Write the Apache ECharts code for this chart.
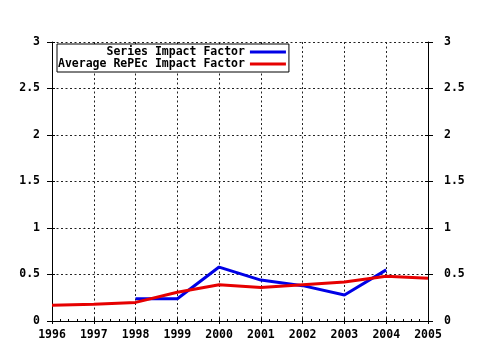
<!DOCTYPE html>
<html>
<head>
<meta charset="utf-8">
<script src="https://cdn.jsdelivr.net/npm/echarts@6/dist/echarts.min.js"></script>
<style>
  html, body { margin: 0; padding: 0; background: #fff; }
  #chart { width: 480px; height: 350px; }
</style>
</head>
<body>
<div id="chart"></div>
<script>
// values
const years = [1996, 1997, 1998, 1999, 2000, 2001, 2002, 2003, 2004, 2005];
const seriesImpact = [null, null, 0.24, 0.24, 0.58, 0.44, 0.38, 0.28, 0.55, null];
const avgRepec = [0.17, 0.18, 0.20, 0.31, 0.39, 0.36, 0.39, 0.42, 0.48, 0.46];
const yTicks = [0, 0.5, 1, 1.5, 2, 2.5, 3];

const font = 'DejaVu Sans Mono';
const pairs = (vals) => years.map((y, i) => [y, vals[i]]).filter((p) => p[1] !== null);

const names = ['Series Impact Factor', 'Average RePEc Impact Factor'];
const maxLen = Math.max(...names.map((n) => n.length));

const labelStyle = { color: '#000', fontFamily: font, fontWeight: 'bold', fontSize: 11.5 };
const yFmt = (v) => (yTicks.includes(v) ? String(v) : '');
const dotted = { color: '#222', type: [2, 2.5], width: 1 };
const black = { color: '#000', width: 1 };

// an axis that only draws inward ticks, laid over the labelled one
const xInner = {
  type: 'value', min: years[0], max: years[years.length - 1], interval: 1, position: 'bottom',
  axisLine: { show: false },
  axisTick: { show: true, inside: true, length: 3, lineStyle: black },
  minorTick: { show: true, splitNumber: 5, length: 2, lineStyle: black },
  axisLabel: { show: false }, splitLine: { show: false },
};
const yInner = (pos) => ({
  type: 'value', min: 0, max: 3, interval: 0.5, position: pos,
  axisLine: { show: false },
  axisTick: { show: true, inside: true, length: 3, lineStyle: black },
  axisLabel: { show: false }, splitLine: { show: false },
});

const myChart = echarts.init(document.getElementById('chart'), null, { renderer: 'canvas' });
const option = {
  animation: false,
  backgroundColor: '#fff',
  grid: { left: 52, right: 52, top: 42, bottom: 29 },
  legend: {
    orient: 'vertical',
    left: 57,
    top: 44,
    align: 'right',
    padding: [2, 3, 2, 1],
    itemGap: 0,
    itemWidth: 36,
    itemHeight: 3,
    icon: 'rect',
    backgroundColor: '#fff',
    borderColor: '#000',
    borderWidth: 1,
    borderRadius: 0,
    formatter: (n) => n.padStart(maxLen, ' '),
    textStyle: { color: '#000', fontFamily: font, fontWeight: 'bold', fontSize: 11.5, lineHeight: 12 },
    data: names,
  },
  xAxis: [
    {
      type: 'value',
      min: years[0],
      max: years[years.length - 1],
      interval: 1,
      position: 'bottom',
      axisLine: { show: true, lineStyle: black },
      axisTick: { show: true, length: 3, lineStyle: black },
      axisLabel: { ...labelStyle, margin: 8, formatter: (v) => String(v) },
      splitLine: { show: true, lineStyle: dotted },
    },
    xInner,
  ],
  yAxis: [
    {
      type: 'value',
      min: 0,
      max: 3,
      interval: 0.5,
      position: 'left',
      axisLine: { show: true, lineStyle: black },
      axisTick: { show: true, length: 5, lineStyle: black },
      axisLabel: { ...labelStyle, margin: 12, formatter: yFmt },
      splitLine: { show: true, lineStyle: dotted },
    },
    {
      type: 'value',
      min: 0,
      max: 3,
      interval: 0.5,
      position: 'right',
      axisLine: { show: true, lineStyle: black },
      axisTick: { show: true, length: 5, lineStyle: black },
      axisLabel: { ...labelStyle, margin: 16, formatter: yFmt },
      splitLine: { show: false },
    },
    yInner('left'),
    yInner('right'),
  ],
  series: [
    {
      name: names[0],
      type: 'line',
      data: pairs(seriesImpact),
      showSymbol: false,
      symbol: 'none',
      lineStyle: { color: '#0000e6', width: 3 },
      itemStyle: { color: '#0000e6' },
      z: 3,
    },
    {
      name: names[1],
      type: 'line',
      data: pairs(avgRepec),
      showSymbol: false,
      symbol: 'none',
      lineStyle: { color: '#e60000', width: 3 },
      itemStyle: { color: '#e60000' },
      z: 4,
    },
  ],
};
myChart.setOption(option);
</script>
</body>
</html>
